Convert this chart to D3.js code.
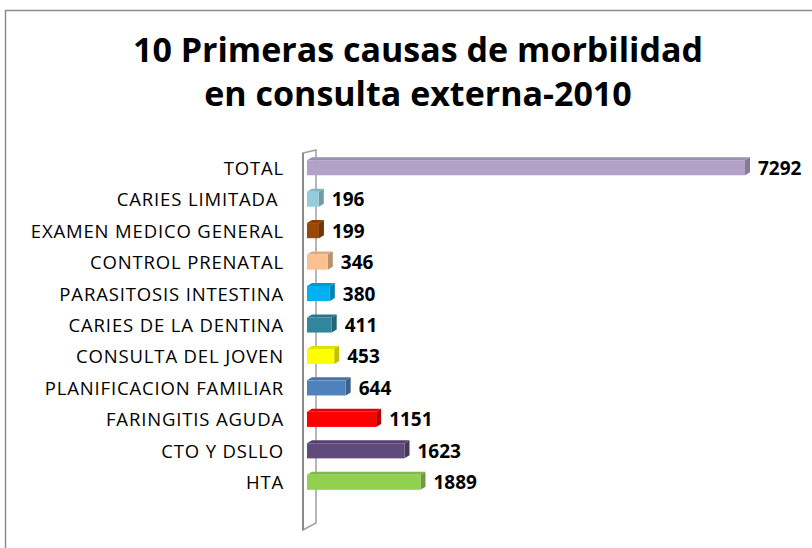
<!DOCTYPE html>
<html lang="en">
    <head>
        <style>
            body { margin: 0; background: #fff; }
            .cat { font-family: "Open Sans", sans-serif; font-size: 18.5px; letter-spacing: 0.85px; fill: #000; white-space: pre; }
            .val { font-family: "Open Sans", sans-serif; font-size: 19px; font-weight: bold; fill: #000; }
            .title { font-family: "Open Sans", sans-serif; font-size: 34px; font-weight: bold; fill: #000; }
        </style>
        <script src="https://d3js.org/d3.v7.min.js"></script>
        <title>Morbilidad</title>
    </head>
    <body>
        <div id="chart"></div>
        <script>
            var categories = ["TOTAL", "CARIES LIMITADA ", "EXAMEN MEDICO GENERAL", "CONTROL PRENATAL",
                "PARASITOSIS INTESTINA", "CARIES DE LA DENTINA", "CONSULTA DEL JOVEN",
                "PLANIFICACION FAMILIAR", "FARINGITIS AGUDA", "CTO Y DSLLO", "HTA"];
            var values = [7292, 196, 199, 346, 380, 411, 453, 644, 1151, 1623, 1889];
            var colors = ["#b3a2c7", "#93cddd", "#984807", "#fac090", "#00b0f0", "#31859c",
                "#ffff00", "#4f81bd", "#ff0000", "#604a7b", "#92d050"];
            var titleLines = ["10 Primeras causas de morbilidad", "en consulta externa-2010"];

            var width = 812, height = 548;
            var dx = 5, dy = 3;   // 3d depth

            var svg = d3.select("#chart").append("svg")
                .attr("width", width)
                .attr("height", height);

            // outer frame
            svg.append("rect")
                .attr("x", 5.5).attr("y", 10.5)
                .attr("width", 830).attr("height", 580)
                .attr("fill", "none")
                .attr("stroke", "#8c8c8c")
                .attr("stroke-width", 1.5);

            svg.selectAll(".title")
                .data(titleLines)
                .enter().append("text")
                    .attr("class", "title")
                    .attr("x", 418)
                    .attr("y", function(d, i) { return 62 + i * 44; })
                    .attr("text-anchor", "middle")
                    .text(function(d) { return d; });

            var x = d3.scaleLinear()
                .domain([0, 7292])
                .range([307, 745]);

            var y = d3.scaleBand()
                .domain(categories)
                .range([152, 498])
                .paddingInner(0.52)
                .paddingOuter(0.26);

            // side wall
            var wallTop = 150, wallBot = 530, x0 = x(0);
            svg.append("path")
                .attr("d", "M" + (x0 - 4) + "," + (wallTop + dy) +
                    " L" + (x0 + dx + 4) + "," + wallTop +
                    " L" + (x0 + dx + 4) + "," + (wallBot - 7) +
                    " L" + (x0 - 4) + "," + wallBot + " Z")
                .attr("fill", "#fff")
                .attr("stroke", "#a0a0a0")
                .attr("stroke-width", 1.5);
            svg.append("line")
                .attr("x1", x0 - 4).attr("x2", x0 - 4)
                .attr("y1", wallTop + dy).attr("y2", wallBot)
                .attr("stroke", "#8a8a8a").attr("stroke-width", 2);

            var bars = svg.selectAll(".bar")
                .data(values)
                .enter().append("g")
                    .attr("class", "bar");

            // top face
            bars.append("path")
                .attr("d", function(d, i) {
                    var y0 = y(categories[i]);
                    return "M" + x(0) + "," + y0 + " L" + (x(0) + dx) + "," + (y0 - dy) +
                        " L" + (x(d) + dx) + "," + (y0 - dy) + " L" + x(d) + "," + y0 + " Z";
                })
                .attr("fill", function(d, i) { return d3.color(colors[i]).darker(0.35); });

            // right face
            bars.append("path")
                .attr("d", function(d, i) {
                    var y0 = y(categories[i]), h = y.bandwidth();
                    return "M" + x(d) + "," + y0 + " L" + (x(d) + dx) + "," + (y0 - dy) +
                        " L" + (x(d) + dx) + "," + (y0 + h - dy) + " L" + x(d) + "," + (y0 + h) + " Z";
                })
                .attr("fill", function(d, i) { return d3.color(colors[i]).darker(0.8); });

            // front face
            bars.append("rect")
                .attr("x", x(0))
                .attr("y", function(d, i) { return y(categories[i]); })
                .attr("width", function(d) { return x(d) - x(0); })
                .attr("height", y.bandwidth())
                .attr("fill", function(d, i) { return colors[i]; });

            bars.append("text")
                .attr("class", "val")
                .attr("x", function(d) { return x(d) + dx + 8; })
                .attr("y", function(d, i) { return y(categories[i]) + y.bandwidth() / 2 + 7; })
                .text(function(d) { return d; });

            svg.selectAll(".cat")
                .data(categories)
                .enter().append("text")
                    .attr("class", "cat")
                    .attr("x", 284)
                    .attr("y", function(d) { return y(d) + y.bandwidth() / 2 + 7; })
                    .attr("text-anchor", "end")
                    .text(function(d) { return d; });
        </script>
    </body>
</html>
